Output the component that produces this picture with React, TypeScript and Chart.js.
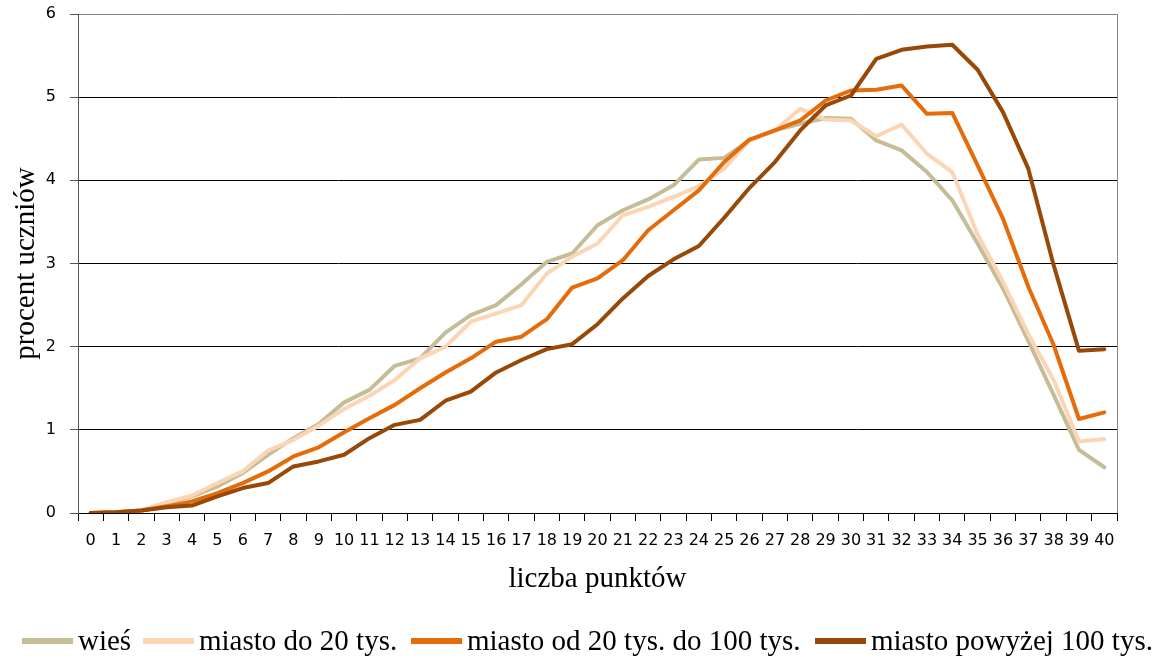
import React, { useEffect, useRef } from "react";
import { Chart, registerables } from "chart.js";

Chart.register(...registerables);

const categories = [
  "0", "1", "2", "3", "4", "5", "6", "7", "8", "9", "10",
  "11", "12", "13", "14", "15", "16", "17", "18", "19", "20",
  "21", "22", "23", "24", "25", "26", "27", "28", "29", "30",
  "31", "32", "33", "34", "35", "36", "37", "38", "39", "40",
];

const seriesLabels = [
  "wieś",
  "miasto do 20 tys.",
  "miasto od 20 tys. do 100 tys.",
  "miasto powyżej 100 tys.",
];

const wies = [
  0, 0.01, 0.03, 0.12, 0.2, 0.32, 0.48, 0.7, 0.9, 1.07, 1.33,
  1.48, 1.77, 1.86, 2.17, 2.38, 2.5, 2.75, 3.02, 3.12, 3.46,
  3.64, 3.77, 3.94, 4.25, 4.27, 4.48, 4.6, 4.68, 4.75, 4.74,
  4.48, 4.36, 4.1, 3.76, 3.24, 2.7, 2.07, 1.42, 0.76, 0.55,
];

const miastoDo20 = [
  0, 0.01, 0.03, 0.13, 0.21, 0.36, 0.5, 0.75, 0.88, 1.05, 1.25,
  1.41, 1.6, 1.86, 2.0, 2.3, 2.4, 2.5, 2.88, 3.08, 3.24,
  3.58, 3.68, 3.8, 3.93, 4.14, 4.48, 4.6, 4.86, 4.73, 4.72,
  4.53, 4.67, 4.32, 4.1, 3.35, 2.78, 2.15, 1.6, 0.86, 0.89,
];

const miasto20do100 = [
  0, 0.01, 0.03, 0.08, 0.14, 0.24, 0.36, 0.5, 0.68, 0.79, 0.97,
  1.14, 1.3, 1.5, 1.69, 1.86, 2.06, 2.12, 2.33, 2.71, 2.82,
  3.04, 3.4, 3.64, 3.88, 4.22, 4.49, 4.6, 4.72, 4.96, 5.08,
  5.09, 5.14, 4.8, 4.81, 4.18, 3.54, 2.72, 2.02, 1.13, 1.21,
];

const miastoPow100 = [
  0, 0.01, 0.03, 0.07, 0.09, 0.2, 0.3, 0.36, 0.56, 0.62, 0.7,
  0.9, 1.06, 1.12, 1.35, 1.46, 1.69, 1.84, 1.97, 2.03, 2.27,
  2.58, 2.85, 3.05, 3.21, 3.55, 3.91, 4.22, 4.6, 4.9, 5.02,
  5.46, 5.57, 5.61, 5.63, 5.33, 4.82, 4.14, 2.98, 1.95, 1.97,
];

const yTicks = [0, 1, 2, 3, 4, 5, 6];

const colors = ["#C4BD97", "#FCD5B5", "#E46C0A", "#984807"];

const SERIF = '"Liberation Serif", "Times New Roman", serif';
const SANS = '"DejaVu Sans", Verdana, sans-serif';

const legendPlugin = {
  id: "customLegend",
  afterDraw(chart: any) {
    const ctx = chart.ctx;
    const starts = [22, 143, 411, 815];
    const y = 641;
    chart.data.datasets.forEach((ds: any, i: number) => {
      ctx.save();
      ctx.strokeStyle = ds.borderColor;
      ctx.lineWidth = 6;
      ctx.lineCap = "butt";
      ctx.beginPath();
      ctx.moveTo(starts[i], y);
      ctx.lineTo(starts[i] + 51, y);
      ctx.stroke();
      ctx.fillStyle = "#000";
      ctx.font = `29px ${SERIF}`;
      ctx.textBaseline = "middle";
      ctx.textAlign = "left";
      ctx.fillText(ds.label, starts[i] + 56, y + 1);
      ctx.restore();
    });
  },
};

const borderPlugin = {
  id: "rightBorder",
  afterDatasetsDraw(chart: any) {
    const { ctx, chartArea } = chart;
    ctx.save();
    ctx.strokeStyle = "#868686";
    ctx.lineWidth = 1;
    ctx.beginPath();
    ctx.moveTo(chartArea.right + 0.5, chartArea.top);
    ctx.lineTo(chartArea.right + 0.5, chartArea.bottom);
    ctx.stroke();
    ctx.restore();
  },
};

export default function App() {
  const canvasRef = useRef<HTMLCanvasElement | null>(null);

  useEffect(() => {
    if (!canvasRef.current) return;
    const series = [wies, miastoDo20, miasto20do100, miastoPow100];
    const chart = new Chart(canvasRef.current, {
      type: "line",
      data: {
        labels: categories,
        datasets: series.map((d, i) => ({
          label: seriesLabels[i],
          data: d,
          borderColor: colors[i],
          backgroundColor: colors[i],
          borderWidth: 4,
          pointRadius: 0,
          tension: 0,
          fill: false,
          borderJoinStyle: "round" as const,
          borderCapStyle: "round" as const,
          order: 4 - i,
        })),
      },
      options: {
        responsive: false,
        animation: false,
        layout: { padding: { left: 0, right: 47, top: 14, bottom: 56 } },
        plugins: {
          legend: { display: false },
          tooltip: { enabled: false },
        },
        scales: {
          x: {
            type: "category",
            offset: true,
            grid: {
              display: true,
              offset: true,
              drawOnChartArea: false,
              drawTicks: true,
              tickLength: 8,
              tickColor: "#000",
              color: "#000",
            },
            border: { display: true, color: "#000", width: 1 },
            ticks: {
              autoSkip: false,
              maxRotation: 0,
              minRotation: 0,
              padding: 10,
              color: "#000",
              font: { family: SANS, size: 16 },
            },
            title: {
              display: true,
              text: "liczba punktów",
              color: "#000",
              font: { family: SERIF, size: 29, lineHeight: 1.2 },
              padding: { top: 0, bottom: 6 },
            },
            afterFit(scale: any) {
              scale.height = 90;
              scale.paddingLeft = 0;
              scale.paddingRight = 0;
            },
          },
          y: {
            min: 0,
            max: 6,
            afterBuildTicks(scale: any) {
              scale.ticks = yTicks.map((v) => ({ value: v }));
            },
            grid: {
              display: true,
              drawTicks: true,
              tickLength: 8,
              tickColor: "#555",
              color: (c: any) => (c.tick && c.tick.value === 6 ? "#868686" : "#000"),
              lineWidth: 1,
            },
            border: { display: true, color: "#555", width: 1 },
            ticks: {
              padding: 14,
              color: "#000",
              font: { family: SANS, size: 16 },
            },
            title: {
              display: true,
              text: "procent uczniów",
              color: "#000",
              font: { family: SERIF, size: 29, lineHeight: 1.2 },
              padding: { top: 9, bottom: 0 },
            },
            afterFit(scale: any) {
              scale.width = 78;
              scale.paddingTop = 0;
              scale.paddingBottom = 0;
            },
          },
        },
      },
      plugins: [borderPlugin, legendPlugin],
    });
    return () => chart.destroy();
  }, []);

  return (
    <div style={{ position: "fixed", left: 0, top: 0, width: 1164, height: 659, background: "#fff" }}>
      <canvas ref={canvasRef} width={1164} height={659} style={{ display: "block" }} />
    </div>
  );
}
